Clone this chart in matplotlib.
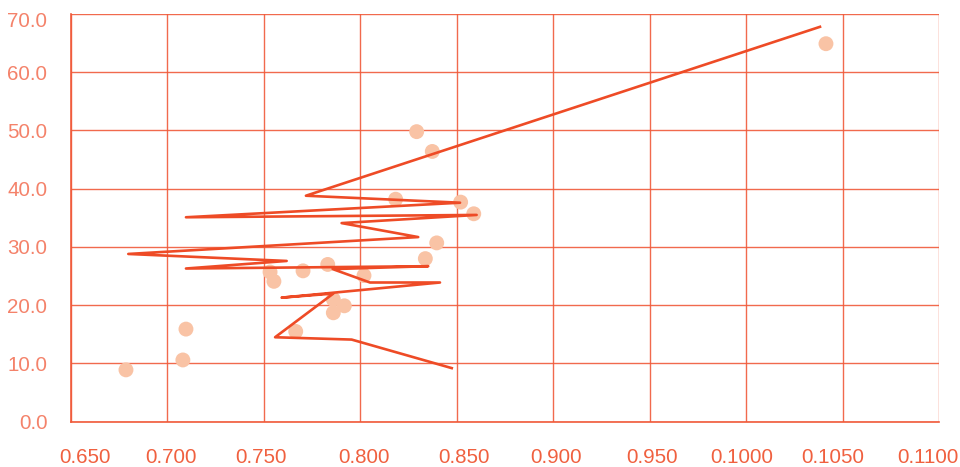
import matplotlib
matplotlib.use("Agg")
import matplotlib.pyplot as plt
from matplotlib.transforms import ScaledTranslation

# scatter series
scatter_x = [0.6785, 0.708, 0.7096, 0.7532, 0.7552, 0.7703, 0.7665, 0.7831, 0.8019,
             0.786, 0.7917, 0.786, 0.8183, 0.852, 0.8588, 0.8396, 0.8337, 0.8292,
             0.8373, 1.0414]
scatter_y = [8.9, 10.6, 15.9, 25.7, 24.1, 25.9, 15.5, 27.0, 25.1,
             21.0, 19.9, 18.7, 38.2, 37.7, 35.7, 30.7, 28.0, 49.8,
             46.4, 64.9]

# line series (data order)
line_x = [1.0383, 0.7718, 0.8517, 0.7096, 0.8603, 0.7903, 0.830, 0.6797, 0.7618,
          0.7096, 0.8352, 0.7857, 0.805, 0.8413, 0.7592, 0.786, 0.7558, 0.7955, 0.8474]
line_y = [67.8, 38.8, 37.6, 35.1, 35.5, 34.1, 31.7, 28.8, 27.6,
          26.3, 26.7, 26.2, 23.9, 23.9, 21.3, 22.0, 14.5, 14.1, 9.2]

x_ticks = [0.65, 0.70, 0.75, 0.80, 0.85, 0.90, 0.95, 1.00, 1.05, 1.10]
x_tick_labels = ["0.650", "0.700", "0.750", "0.800", "0.850", "0.900", "0.950",
                 "0.1000", "0.1050", "0.1100"]
y_ticks = [0, 10, 20, 30, 40, 50, 60, 70]
y_tick_labels = ["0.0", "10.0", "20.0", "30.0", "40.0", "50.0", "60.0", "70.0"]

# pixel nudges of tick labels (layout only)
x_label_nudge_px = [14, 4, -2.5, 3.5, 7, 2.5, 2, -4, -9.5, -11]
y_label_nudge_px = [0, 0, 0, 0, 0, 0, 0, -5]

plt.rcParams['font.family'] = ['Liberation Sans', 'DejaVu Sans']

fig = plt.figure(figsize=(9.6, 4.67), dpi=100)
ax = fig.add_axes([71/960, 45.3/467, 868/960, 407.7/467])

grid_color = "#F05A3A"
ax.set_xlim(0.65, 1.10)
ax.set_ylim(0, 70)
ax.set_xticks(x_ticks)
ax.set_xticklabels(x_tick_labels)
ax.set_yticks(y_ticks)
ax.set_yticklabels(y_tick_labels)
ax.grid(True, color=grid_color, linewidth=1.0, alpha=0.9)
ax.set_axisbelow(True)

for s in ["top", "right"]:
    ax.spines[s].set_visible(False)
for s in ["left", "bottom"]:
    ax.spines[s].set_color(grid_color)
    ax.spines[s].set_linewidth(1.2)

ax.tick_params(axis="both", length=0, labelsize=14.8)
ax.tick_params(axis="x", pad=19, labelcolor="#F0603F")
ax.tick_params(axis="y", pad=17, labelcolor="#F4826A")

for lab, dx in zip(ax.get_xticklabels(), x_label_nudge_px):
    lab.set_transform(lab.get_transform() + ScaledTranslation(dx / 100, 0, fig.dpi_scale_trans))
for lab, dy in zip(ax.get_yticklabels(), y_label_nudge_px):
    lab.set_transform(lab.get_transform() + ScaledTranslation(0, dy / 100, fig.dpi_scale_trans))

ax.scatter(scatter_x, scatter_y, s=115, color="#F9C3A5", edgecolors="none", zorder=3)
ax.plot(line_x, line_y, color="#EE4B26", linewidth=1.9, zorder=4)

fig.savefig("out.png", dpi=100)
